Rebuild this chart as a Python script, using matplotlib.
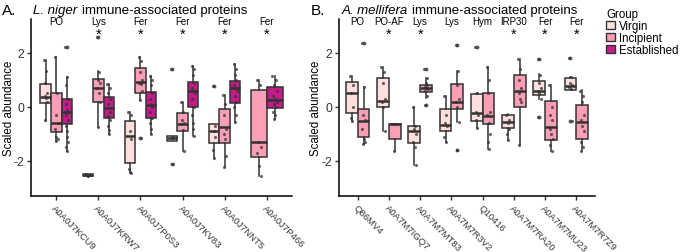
import matplotlib
matplotlib.use("Agg")
import matplotlib.pyplot as plt
from matplotlib.patches import Patch
import matplotlib.transforms as mtransforms

plt.rcParams['font.family'] = ['Liberation Sans', 'DejaVu Sans']

groups = ["Virgin", "Incipient", "Established"]
colors = {"Virgin": "#fde0dd", "Incipient": "#fa9fb5", "Established": "#c51b8a"}

# ---------------- Panel A: L. niger ----------------
A_ids = ["A0A0J7KCU9", "A0A0J7KRW7", "A0A0J7P0S3", "A0A0J7KV83", "A0A0J7NNT5", "A0A0J7P466"]
A_names = ["PO", "Lys", "Fer", "Fer", "Fer", "Fer"]
A_star = [False, True, True, True, True, True]
# stats: (whislo, q1, median, q3, whishi)
A_stats = {
    "Virgin": [(-0.51, 0.15, 0.38, 0.86, 1.74), (-2.58, -2.57, -2.53, -2.50, -2.49),
               (-2.46, -2.07, -1.06, -0.51, -0.20), (-1.25, -1.25, -1.15, -1.06, -1.06),
               (-1.89, -1.33, -0.90, -0.63, -0.63), None],
    "Incipient": [(-1.27, -0.94, -0.59, 0.52, 1.85), (-0.73, 0.20, 0.70, 1.04, 1.34),
                  (0.26, 0.51, 0.91, 1.44, 1.86), (-1.64, -0.88, -0.63, -0.22, 0.20),
                  (-2.23, -1.33, -0.73, -0.07, 0.44), (-2.57, -1.86, -1.31, 0.64, 1.01)],
    "Established": [(-1.64, -0.63, -0.20, 0.30, 1.12), (-1.02, -0.41, -0.05, 0.36, 0.85),
                    (-1.02, -0.41, 0.09, 0.54, 1.16), (-1.06, 0.01, 0.58, 0.91, 1.53),
                    (-0.57, 0.15, 0.70, 0.98, 1.59), (-0.44, -0.05, 0.26, 0.75, 1.16)],
}
A_fliers = {
    "Virgin": [[], [], [], [1.41, -2.11], [0.79], []],
    "Incipient": [[], [2.60], [-1.16], [], [], []],
    "Established": [[2.21], [], [], [], [], []],
}
A_points = {
    "Virgin": [[1.74, 1.35, 0.90, 0.50, 0.40, 0.35, 0.20, -0.50],
               [-2.50, -2.55],
               [-0.20, -0.30, -0.90, -1.20, -2.30, -2.40, -2.46],
               [1.41, -1.10, -1.15, -2.11],
               [0.79, -0.70, -0.90, -1.10, -1.60, -1.89],
               []],
    "Incipient": [[1.85, 0.50, -0.30, -0.60, -0.80, -1.10, -1.20, -1.27],
                  [2.60, 1.30, 1.00, 0.90, 0.70, 0.50, 0.20, -0.73],
                  [1.86, 1.70, 1.30, 1.00, 0.90, 0.85, 0.60, 0.26, -1.16],
                  [0.20, -0.20, -0.50, -0.60, -0.65, -0.85, -1.64],
                  [0.44, 0.10, -0.30, -0.80, -1.00, -1.20, -1.80, -2.23],
                  [1.00, 0.80, -1.30, -1.50, -1.70, -2.20, -2.57]],
    "Established": [[2.21, 1.10, 0.80, 0.30, 0.10, -0.10, -0.20, -0.30, -0.50, -0.70, -0.90, -1.10, -1.30, -1.50, -1.64],
                    [0.85, 0.70, 0.50, 0.30, 0.10, -0.05, -0.20, -0.35, -0.50, -0.70, -0.85, -1.02],
                    [1.16, 1.00, 0.80, 0.50, 0.30, 0.10, 0.00, -0.20, -0.40, -0.60, -0.80, -1.02],
                    [1.50, 1.40, 1.20, 0.90, 0.70, 0.60, 0.50, 0.30, 0.00, -0.30, -0.60, -0.80, -1.06],
                    [1.59, 1.40, 1.20, 1.00, 0.80, 0.70, 0.60, 0.40, 0.20, 0.00, -0.30, -0.57],
                    [1.16, 1.00, 0.80, 0.60, 0.40, 0.30, 0.20, 0.10, 0.00, -0.20, -0.30, -0.44]],
}

# ---------------- Panel B: A. mellifera ----------------
B_ids = ["Q86MV4", "A0A7M7IGQ7", "A0A7M7MT83", "A0A7M7R3V2", "Q10416", "A0A7M7RA20", "A0A7M7MU23", "A0A7M7R7Z9"]
B_names = ["PO", "PO-AF", "Lys", "Lys", "Hym", "IRP30", "Fer", "Fer"]
B_star = [False, True, True, False, False, True, True, True]
B_stats = {
    "Virgin": [(-0.51, -0.23, 0.52, 0.91, 1.16), (-0.90, 0.01, 0.21, 1.07, 1.47),
               (-2.14, -1.35, -0.88, -0.70, 0.01), (-1.31, -0.90, -0.67, -0.07, 0.42),
               (-0.78, -0.53, -0.23, 0.48, 0.50), (-1.22, -0.78, -0.57, -0.28, -0.26),
               (0.30, 0.46, 0.60, 0.98, 1.22), (0.62, 0.64, 0.79, 1.07, 1.10)],
    "Incipient": [(-1.37, -1.10, -0.51, -0.07, 0.73), (-1.65, -1.19, -0.63, -0.62, -0.62),
                  (0.35, 0.54, 0.72, 0.81, 1.06), (-0.57, -0.07, 0.17, 0.85, 1.35),
                  (-1.56, -0.65, -0.32, 0.51, 1.49), (-1.41, 0.01, 0.58, 1.20, 1.78),
                  (-1.64, -1.22, -0.73, 0.23, 0.81), (-1.64, -1.19, -0.57, 0.09, 0.63)],
}
B_fliers = {
    "Virgin": [[], [], [], [], [2.23], [], [1.78, -0.38], [1.80, -0.51]],
    "Incipient": [[2.36], [], [1.40, 0.07], [2.30, -1.59], [], [], [], []],
}
B_points = {
    "Virgin": [[1.16, 0.80, 0.50, 0.00, -0.40, -0.51],
               [1.47, 1.30, 0.90, 0.30, 0.20, 0.00, -0.90],
               [0.01, -0.70, -0.80, -1.00, -1.30, -1.50, -2.14],
               [0.42, -0.30, -0.60, -0.70, -1.10, -1.31],
               [2.23, 0.50, -0.20, -0.30, -0.50, -0.78],
               [-0.30, -0.50, -0.60, -0.80, -1.00, -1.22],
               [1.78, 1.20, 0.90, 0.70, 0.60, 0.50, 0.30, -0.38],
               [1.80, 1.10, 0.90, 0.80, 0.75, 0.65, -0.51]],
    "Incipient": [[2.36, 0.73, -0.30, -0.50, -0.80, -1.20, -1.30, -1.37],
                  [-0.62, -0.65, -1.65],
                  [1.40, 1.06, 0.90, 0.80, 0.75, 0.70, 0.65, 0.60, 0.40, 0.07],
                  [2.30, 1.35, 0.80, 0.30, 0.20, 0.00, -0.57, -1.59],
                  [1.49, 1.00, 0.50, -0.20, -0.30, -0.60, -1.00, -1.30, -1.56],
                  [1.78, 1.40, 1.00, 0.70, 0.50, 0.30, 0.20, -1.41],
                  [0.80, 0.00, -0.30, -0.50, -0.80, -1.00, -1.20, -1.40, -1.64],
                  [0.60, 0.40, 0.20, -0.30, -0.50, -0.70, -0.90, -1.30, -1.50, -1.64]],
}

edge = "#333333"
fig = plt.figure(figsize=(6.85, 2.53), dpi=100)

def px_axes(x0, x1, y0, y1):
    return fig.add_axes([x0 / 685, (253 - y1) / 253, (x1 - x0) / 685, (y1 - y0) / 253])

jit = [-0.35, 0.15, -0.1, 0.3, -0.25, 0.05, 0.35, -0.15, 0.2, -0.3, 0.1, -0.05, 0.25, -0.2, 0.0]

def draw_panel(ax, ids, names, stars, stats, fliers, points, grp_list, ylab_x):
    n = len(ids)
    for i in range(n):
        present = [g for g in grp_list if stats[g][i] is not None]
        k = len(present)
        w = 0.75 / k
        for j, g in enumerate(present):
            pos = (i + 1) - 0.375 + w * (j + 0.5)
            lo, q1, med, q3, hi = stats[g][i]
            st = dict(whislo=lo, q1=q1, med=med, q3=q3, whishi=hi, fliers=fliers[g][i])
            ax.bxp([st], positions=[pos], widths=w, patch_artist=True,
                   showcaps=False,
                   boxprops=dict(facecolor=colors[g], edgecolor=edge, linewidth=1.1),
                   medianprops=dict(color=edge, linewidth=1.8),
                   whiskerprops=dict(color=edge, linewidth=1.1),
                   flierprops=dict(marker='o', markersize=2.8, markerfacecolor=edge,
                                   markeredgecolor='none', alpha=0.8),
                   manage_ticks=False, zorder=2)
            pts = points[g][i]
            xs = [pos + jit[m % len(jit)] * w * 0.4 for m in range(len(pts))]
            ax.scatter(xs, pts, s=5, color=edge, alpha=0.75, linewidths=0, zorder=3)
        ax.text(i + 1, 3.2, names[i], ha='center', va='center', fontsize=7)
        if stars[i]:
            ax.text(i + 1, 2.72, "*", ha='center', va='center', fontsize=10.5)
    ax.set_xlim(0.4, n + 0.6)
    ax.set_ylim(-3.3, 3.26)
    ax.set_yticks([-2, 0, 2])
    ax.set_yticklabels(["-2", "0", "2"], fontsize=8.8, color='#333333')
    ax.set_xticks(range(1, n + 1))
    ax.set_xticklabels(ids, rotation=-45, ha='left', va='top', fontsize=6.8,
                       rotation_mode='anchor', color='#333333')
    off = mtransforms.ScaledTranslation(-6 / 100, -2 / 100, fig.dpi_scale_trans)
    for lab in ax.get_xticklabels():
        lab.set_transform(lab.get_transform() + off)
    for s in ['top', 'right']:
        ax.spines[s].set_visible(False)
    for s in ['left', 'bottom']:
        ax.spines[s].set_linewidth(1.1)
    ax.tick_params(length=3, width=1, color='#333333', pad=2)
    ax.set_ylabel("Scaled abundance", fontsize=8.3)
    ax.yaxis.set_label_coords(ylab_x, 0.5)

axA = px_axes(31, 292, 20, 197)
draw_panel(axA, A_ids, A_names, A_star, A_stats, A_fliers, A_points, groups, (15 - 31) / 261)
axB = px_axes(339, 595, 20, 197)
draw_panel(axB, B_ids, B_names, B_star, B_stats, B_fliers, B_points, groups[:2], (322 - 339) / 256)

ty = 1 - 11 / 253
fig.text(2 / 685, ty, "A.", fontsize=11, va='center', ha='left')
fig.text(33 / 685, ty, "L. niger", fontsize=9.5, style='italic', va='center', ha='left')
fig.text(82 / 685, ty, "immune-associated proteins", fontsize=9.5, va='center', ha='left')
fig.text(311 / 685, ty, "B.", fontsize=11, va='center', ha='left')
fig.text(342 / 685, ty, "A. mellifera", fontsize=9.5, style='italic', va='center', ha='left')
fig.text(412 / 685, ty, "immune-associated proteins", fontsize=9.5, va='center', ha='left')

handles = [Patch(facecolor=colors[g], edgecolor=edge, linewidth=1.0) for g in groups]
leg = fig.legend(handles, groups, title="Group", loc='upper left',
                 bbox_to_anchor=(606 / 685, 1 - 9 / 253), frameon=False,
                 fontsize=8.3, title_fontsize=8.3, handlelength=0.8, handleheight=0.7,
                 handletextpad=0.3, labelspacing=0.0, borderaxespad=0, borderpad=0)
leg._legend_box.align = "left"

fig.savefig("out.png", dpi=100, facecolor='white')
